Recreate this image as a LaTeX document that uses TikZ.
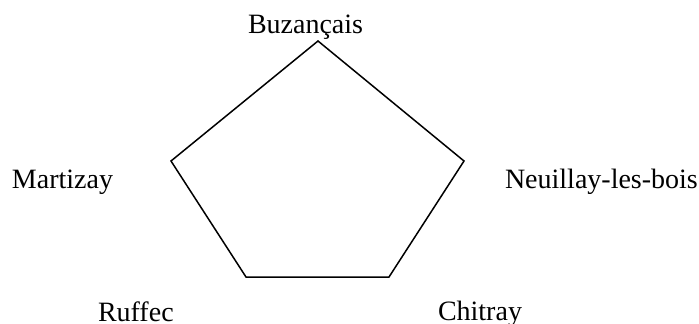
\documentclass[tikz,border=0pt]{standalone}
\usepackage{fontspec}
\setmainfont{Liberation Serif}
\begin{document}
\begin{tikzpicture}[x=1pt,y=-1pt,
  lbl/.style={anchor=base west,inner sep=0pt,outer sep=0pt,font=\fontsize{28}{30}\selectfont},
  edge/.style={line width=1.5pt,line join=miter}]
\useasboundingbox (0,0) rectangle (699,324);
\coordinate (T) at (318,41);
\coordinate (R) at (464,161);
\coordinate (BR) at (389,277);
\coordinate (BL) at (246,277);
\coordinate (L) at (171,161);
\draw[edge] (T) -- (R) -- (BR) -- (BL) -- (L) -- cycle;
\node[lbl] (buz) at (248,33) {Buzançais};
\node[lbl] (mar) at (12,188) {Martizay};
\node[lbl] (neu) at (505,188) {Neuillay-les-bois};
\node[lbl] (ruf) at (98,321) {Ruffec};
\node[lbl] (chi) at (438,320) {Chitray};
\end{tikzpicture}
\end{document}
